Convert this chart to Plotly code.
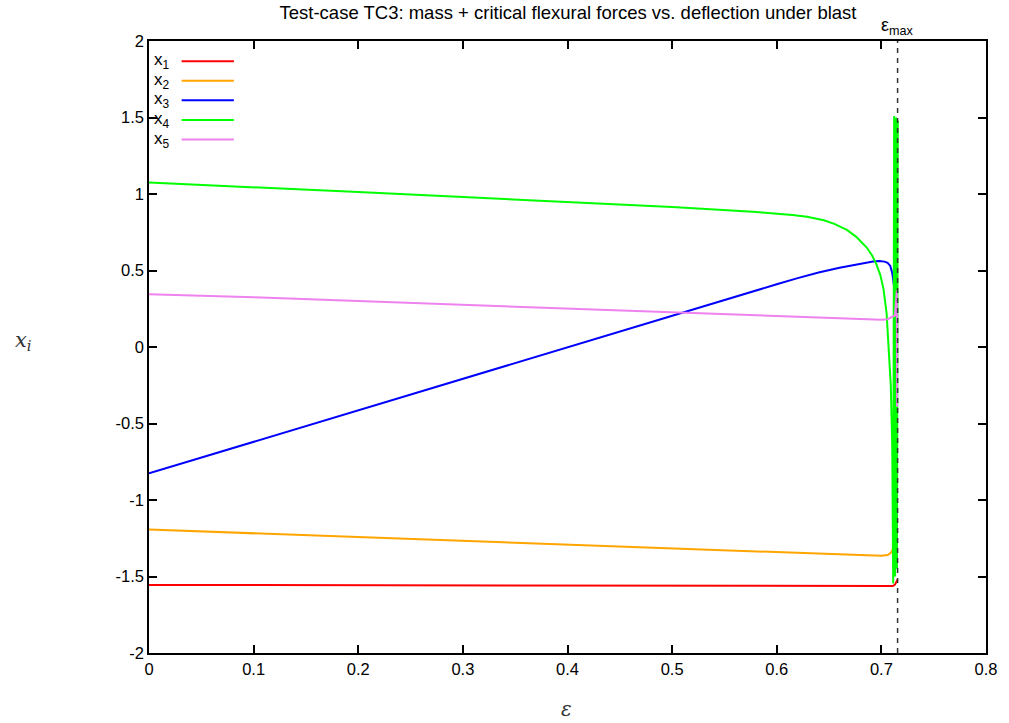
import plotly.graph_objects as go

# ---- data ----
eps_x1 = [0.0, 0.2, 0.4, 0.6, 0.711, 0.713, 0.7145, 0.7155]
x1 = [-1.555, -1.556, -1.558, -1.56, -1.562, -1.553, -1.53, -1.52]

eps_x2 = [0.0, 0.1, 0.2, 0.3, 0.4, 0.5, 0.6, 0.68, 0.70, 0.706, 0.709, 0.7105, 0.7115]
x2 = [-1.193, -1.218, -1.243, -1.268, -1.292, -1.316, -1.34, -1.36, -1.365, -1.36, -1.345, -1.33, -1.30]

eps_x3 = [0.0, 0.1, 0.2, 0.3, 0.4, 0.5, 0.581, 0.60, 0.62, 0.64, 0.66, 0.675, 0.685, 0.692,
          0.698, 0.703, 0.706, 0.7085, 0.7105, 0.712, 0.7128]
x3 = [-0.826, -0.62, -0.41, -0.205, 0.0, 0.205, 0.375, 0.41, 0.45, 0.487, 0.518, 0.539, 0.552, 0.559,
      0.562, 0.558, 0.55, 0.53, 0.48, 0.41, 0.36]

eps_x4 = [0.0, 0.1, 0.2, 0.3, 0.4, 0.5, 0.581, 0.60, 0.615, 0.629, 0.645, 0.655, 0.667, 0.676,
          0.686, 0.691, 0.695, 0.699, 0.702, 0.705, 0.7072, 0.709, 0.7104, 0.7113,
          0.7122, 0.7131, 0.714, 0.7149, 0.7157]
x4 = [1.075, 1.045, 1.013, 0.98, 0.948, 0.915, 0.882, 0.872, 0.863, 0.851, 0.828, 0.805, 0.765, 0.72,
      0.65, 0.60, 0.545, 0.47, 0.38, 0.22, 0.0, -0.25, -0.65, -1.545,
      1.51, -1.50, 1.50, -1.45, 1.48]

eps_x5 = [0.0, 0.1, 0.2, 0.3, 0.4, 0.5, 0.6, 0.677, 0.70, 0.706, 0.7105, 0.713, 0.7148, 0.715, 0.7152]
x5 = [0.345, 0.325, 0.300, 0.276, 0.252, 0.228, 0.203, 0.181, 0.178, 0.182, 0.20, 0.207, 0.37, -0.39, 0.21]

eps_max = 0.7155

series_names = ["x<sub>1</sub>", "x<sub>2</sub>", "x<sub>3</sub>", "x<sub>4</sub>", "x<sub>5</sub>"]
series_colors = ["#ff0000", "#ffa500", "#0000ff", "#00ff00", "#ee82ee"]

x_ticks = [0, 0.1, 0.2, 0.3, 0.4, 0.5, 0.6, 0.7, 0.8]
x_ticklabels = ["0", "0.1", "0.2", "0.3", "0.4", "0.5", "0.6", "0.7", "0.8"]
y_ticks = [-2, -1.5, -1, -0.5, 0, 0.5, 1, 1.5, 2]
y_ticklabels = ["-2", "-1.5", "-1", "-0.5", "0", "0.5", "1", "1.5", "2"]

title_text = "Test-case TC3: mass + critical flexural forces vs. deflection under blast"

# ---- figure ----
fig = go.Figure()
all_x = [eps_x1, eps_x2, eps_x3, eps_x4, eps_x5]
all_y = [x1, x2, x3, x4, x5]
for xs, ys, name, col in zip(all_x, all_y, series_names, series_colors):
    fig.add_trace(go.Scatter(x=xs, y=ys, mode="lines", name=name,
                             line=dict(color=col, width=2), showlegend=False))

fig.add_vline(x=eps_max, line=dict(color="#333333", width=1.5, dash="5px,5px"))

font_main = "Liberation Sans, Arial, sans-serif"

# manual gnuplot-style legend (label left, sample right)
leg_y = [0.967, 0.935, 0.903, 0.871, 0.839]
for name, col, yy in zip(series_names, series_colors, leg_y):
    fig.add_annotation(xref="paper", yref="paper", x=0.003, y=yy, text=name,
                       showarrow=False, xanchor="left", yanchor="middle",
                       font=dict(family=font_main, size=17, color="black"))
    fig.add_shape(type="line", xref="paper", yref="paper", x0=0.039, x1=0.1014,
                  y0=yy, y1=yy, line=dict(color=col, width=2))

# epsilon_max label
fig.add_annotation(xref="x", yref="paper", x=eps_max, y=1.0, yshift=1,
                   text="ε<sub>max</sub>", showarrow=False,
                   xanchor="center", yanchor="bottom",
                   font=dict(family=font_main, size=18, color="black"))

# axis titles (LaTeX-like italic serif)
fig.add_annotation(xref="paper", yref="paper", x=(570 - 149) / 844, y=(653 - 709) / 612,
                   text="<i>ε</i>", showarrow=False, xanchor="center", yanchor="middle",
                   font=dict(family="DejaVu Serif, Liberation Serif, serif", size=20, color="#333333"))
fig.add_annotation(xref="paper", yref="paper", x=(22 - 149) / 844, y=(653 - 341) / 612,
                   text="<i>x<sub>i</sub></i>", showarrow=False, xanchor="center", yanchor="middle",
                   font=dict(family="DejaVu Serif, Liberation Serif, serif", size=21, color="#333333"))

axis_common = dict(showline=True, linecolor="black", linewidth=1.5, mirror="ticks",
                   ticks="inside", ticklen=8, tickwidth=1.5, tickcolor="black",
                   showgrid=False, zeroline=False,
                   tickfont=dict(family=font_main, size=16.5, color="black"))

fig.update_xaxes(range=[0, 0.8], tickvals=x_ticks, ticktext=x_ticklabels, **axis_common)
fig.update_yaxes(range=[-2, 2], tickvals=y_ticks, ticktext=y_ticklabels, **axis_common)

fig.update_layout(
    width=1009, height=723,
    margin=dict(l=149, r=16, t=41, b=70),
    paper_bgcolor="white", plot_bgcolor="white",
    title=dict(text=title_text, x=568 / 1009, xanchor="center",
               y=(723 - 13) / 723, yanchor="middle",
               font=dict(family=font_main, size=18.5, color="black")),
    showlegend=False,
)

fig.write_html("out.html", config={"displayModeBar": False},
               post_script="document.body.style.margin='0px';")
